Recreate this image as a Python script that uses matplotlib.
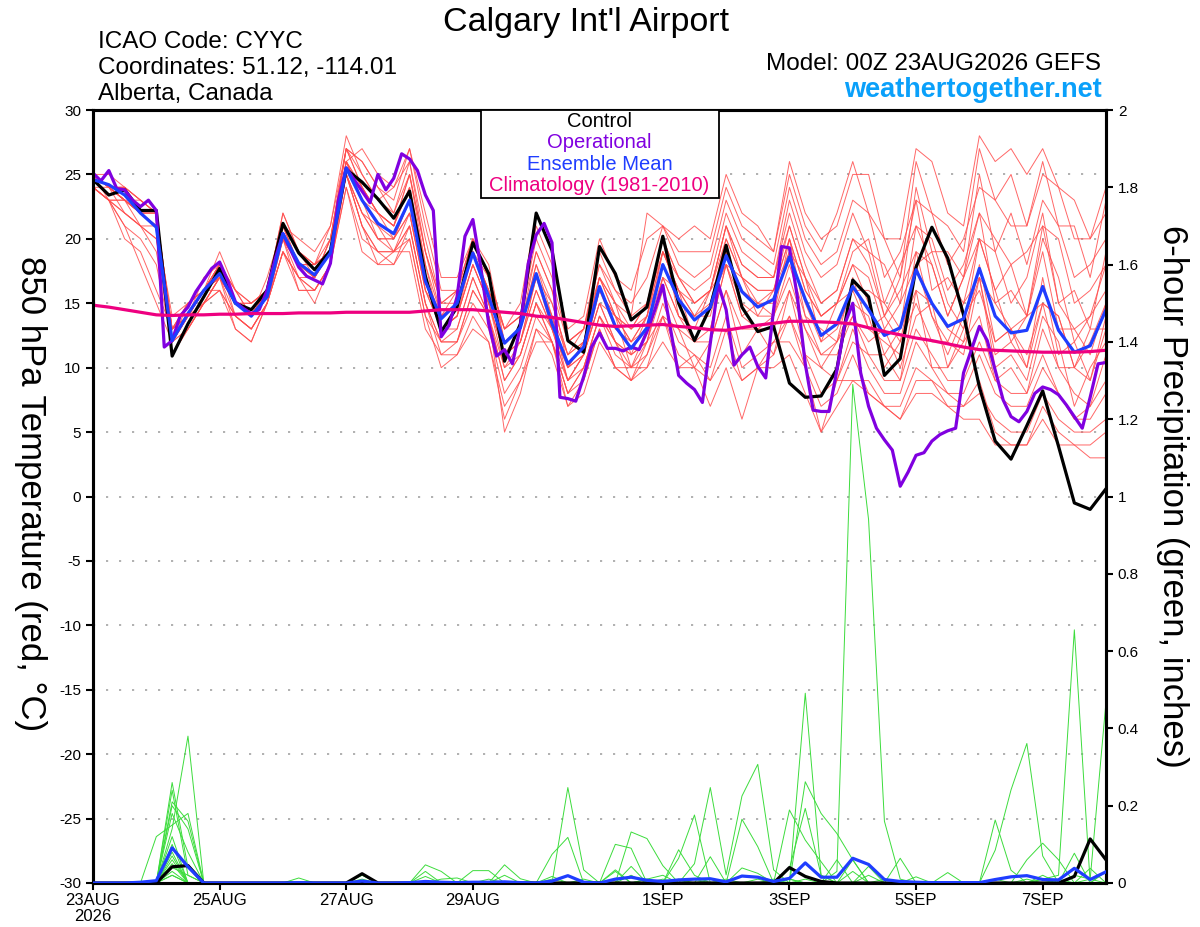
import numpy as np
import matplotlib
matplotlib.use('Agg')
import matplotlib.pyplot as plt
from matplotlib.patches import Rectangle

plt.rcParams['font.family'] = ['Liberation Sans', 'DejaVu Sans']
plt.rcParams['axes.unicode_minus'] = False

# 6-hourly GEFS steps (0..384 h), operational run is 3-hourly
hours = np.arange(65) * 6
hours_op = np.arange(129) * 3

tick_hours = [0, 48, 96, 144, 216, 264, 312, 360]
tick_labels = ['23AUG\n2026', '25AUG', '27AUG', '29AUG', '1SEP', '3SEP', '5SEP', '7SEP']

# 850 hPa temperature (C)
t_control = [24.6, 23.4, 23.8, 22.2, 22.2, 10.9, 13.4, 15.5, 17.7, 15.0, 14.5, 16.0, 21.2, 18.9, 17.6, 19.1, 25.4,
             24.4, 23.1, 21.6, 23.7, 17.1, 12.8, 14.7, 19.7, 17.3, 10.5, 13.4, 22.0, 19.1, 12.1, 11.2, 19.4,
             17.3, 13.7, 14.7, 20.2, 15.0, 12.1, 14.7, 19.5, 14.7, 12.8, 13.2, 8.8, 7.7, 7.8, 9.9, 16.8,
             15.5, 9.4, 10.7, 17.8, 20.9, 18.5, 14.1, 8.5, 4.3, 2.9, 5.5, 8.2, 3.9, -0.5, -1.0, 0.6]

t_mean = [24.6, 24.2, 23.4, 22.0, 20.9, 12.1, 14.2, 16.0, 17.3, 15.0, 14.0, 15.5, 20.4, 18.1, 17.2, 18.9, 25.5,
          23.0, 21.2, 20.4, 23.0, 16.7, 13.8, 15.0, 18.9, 15.5, 11.9, 13.1, 17.3, 13.4, 10.3, 11.6, 16.3,
          13.2, 11.5, 13.1, 18.0, 15.3, 13.7, 14.7, 18.7, 15.9, 14.7, 15.3, 18.6, 15.3, 12.5, 13.4, 16.3,
          14.5, 12.5, 13.1, 17.6, 15.0, 13.2, 13.8, 17.7, 14.0, 12.7, 12.9, 16.3, 12.9, 11.2, 11.7, 14.5]

t_clim = [14.85, 14.7, 14.5, 14.3, 14.1, 14.05, 14.1, 14.1, 14.15, 14.15, 14.2, 14.2, 14.2, 14.25, 14.25, 14.25, 14.3,
          14.3, 14.3, 14.3, 14.3, 14.4, 14.5, 14.5, 14.5, 14.4, 14.3, 14.2, 14.0, 13.9, 13.7, 13.5, 13.3,
          13.2, 13.25, 13.3, 13.35, 13.2, 13.1, 12.95, 12.9, 13.1, 13.3, 13.45, 13.6, 13.6, 13.55, 13.5, 13.4,
          13.1, 12.8, 12.55, 12.3, 12.1, 11.85, 11.6, 11.4, 11.35, 11.3, 11.25, 11.2, 11.2, 11.2, 11.25, 11.35]

t_oper = [25.1, 24.5, 25.3, 23.9, 23.8, 23.0, 22.5, 23.0, 22.2, 11.6, 12.1, 14.0, 14.7, 15.9, 16.8, 17.7,
          18.2, 16.8, 15.1, 14.6, 14.2, 14.5, 16.0, 18.4, 20.4, 19.1, 17.8, 17.1, 16.8, 16.5, 18.1, 23.0, 25.5,
          24.6, 23.7, 22.8, 25.0, 23.8, 24.7, 26.6, 26.2, 25.3, 23.4, 22.2, 12.4, 13.3, 15.5, 20.2, 21.5,
          17.8, 13.4, 10.9, 11.4, 10.3, 13.2, 18.1, 20.3, 21.2, 19.7, 7.7, 7.6, 7.4, 9.3, 11.6, 12.7,
          11.5, 11.5, 11.3, 11.6, 11.4, 12.8, 14.5, 16.4, 12.9, 9.4, 8.8, 8.3, 7.3, 11.9, 16.5, 14.5,
          10.2, 11.0, 11.6, 10.1, 9.2, 14.5, 19.4, 19.3, 15.5, 10.3, 6.7, 6.6, 6.6, 9.8, 13.4, 15.0,
          9.6, 7.0, 5.3, 4.4, 3.6, 0.8, 1.9, 3.2, 3.4, 4.3, 4.8, 5.1, 5.3, 9.6, 11.4, 13.2,
          12.1, 9.8, 7.5, 6.2, 5.8, 6.6, 8.0, 8.5, 8.3, 7.9, 7.1, 6.2, 5.3, 7.7, 10.3, 10.4]

t_members = [
    [25, 24, 24, 23, 22, 12, 14, 16, 18, 15, 14, 16, 21, 18, 17, 19, 26, 24, 22, 21, 24, 18, 14, 15, 19, 16, 12, 13, 18, 14, 11, 12, 17,
     14, 12, 14, 19, 16, 14, 15, 20, 17, 16, 16, 20, 16, 14, 15, 18, 17, 13, 15, 18, 19, 15, 13, 20, 16, 12, 14, 19, 13, 13, 11, 15],
    [25, 24, 23, 22, 22, 13, 14, 16, 18, 16, 15, 16, 21, 19, 18, 19, 27, 25, 23, 22, 26, 20, 15, 16, 20, 17, 13, 14, 20, 17, 12, 13, 19,
     16, 15, 17, 21, 18, 17, 18, 23, 20, 19, 18, 24, 20, 18, 19, 23, 22, 17, 19, 23, 22, 18, 20, 24, 23, 21, 21, 26, 21, 21, 17, 23],
    [24, 23, 20, 19, 16, 13, 15, 16, 17, 14, 13, 15, 19, 17, 16, 18, 25, 21, 19, 19, 21, 15, 12, 13, 17, 14, 9, 11, 15, 12, 8, 10, 14,
     12, 9, 12, 14, 13, 10, 12, 16, 11, 13, 11, 16, 11, 10, 9, 13, 10, 8, 8, 12, 10, 8, 8, 11, 8, 7, 7, 10, 8, 6, 6, 8],
    [25, 24, 23, 23, 22, 12, 13, 15, 17, 15, 14, 16, 20, 17, 17, 20, 27, 24, 22, 21, 25, 18, 13, 14, 19, 15, 11, 12, 17, 13, 9, 11, 16,
     14, 10, 13, 17, 16, 12, 15, 18, 14, 15, 14, 20, 14, 13, 12, 17, 13, 12, 11, 19, 14, 11, 14, 16, 12, 13, 10, 17, 11, 12, 9, 14],
    [25, 23, 21, 18, 15, 12, 14, 16, 18, 16, 14, 16, 21, 18, 18, 21, 27, 26, 24, 23, 27, 21, 16, 16, 20, 17, 13, 14, 21, 18, 13, 14, 20,
     17, 16, 20, 21, 19, 19, 19, 24, 21, 20, 19, 26, 22, 20, 21, 25, 25, 20, 20, 27, 26, 22, 21, 28, 26, 27, 25, 27, 24, 23, 20, 24],
    [24, 24, 23, 22, 21, 13, 14, 15, 16, 14, 13, 15, 20, 18, 17, 19, 25, 22, 20, 20, 22, 16, 13, 14, 18, 15, 11, 12, 16, 13, 10, 11, 15,
     12, 11, 12, 17, 14, 12, 13, 18, 14, 13, 14, 17, 13, 11, 11, 14, 12, 13, 10, 14, 15, 10, 13, 17, 10, 11, 9, 14, 12, 7, 10, 12],
    [25, 24, 24, 23, 22, 11, 13, 15, 17, 15, 14, 16, 22, 19, 18, 19, 26, 27, 25, 24, 27, 22, 17, 17, 20, 18, 12, 13, 19, 16, 10, 12, 17,
     14, 13, 15, 19, 17, 15, 16, 21, 18, 17, 17, 22, 18, 15, 16, 20, 19, 14, 17, 23, 16, 17, 15, 20, 19, 15, 17, 22, 15, 16, 13, 19],
    [24, 23, 22, 21, 19, 12, 14, 16, 17, 15, 15, 16, 20, 18, 17, 19, 25, 22, 21, 19, 21, 15, 11, 12, 16, 14, 5, 8, 13, 12, 7, 9, 13,
     10, 9, 11, 14, 11, 10, 9, 13, 9, 10, 11, 14, 10, 7, 8, 11, 8, 7, 6, 9, 9, 7, 7, 9, 5, 4, 4, 7, 5, 4, 3, 3],
    [25, 24, 23, 22, 21, 14, 15, 16, 19, 16, 14, 17, 21, 20, 19, 21, 28, 25, 23, 24, 26, 19, 14, 15, 19, 16, 13, 15, 22, 19, 12, 13, 18,
     15, 14, 22, 21, 20, 21, 20, 25, 22, 21, 19, 25, 21, 19, 22, 26, 22, 20, 17, 26, 22, 21, 19, 27, 23, 25, 21, 25, 24, 20, 20, 22],
    [25, 24, 22, 21, 20, 12, 14, 17, 18, 14, 13, 15, 20, 16, 16, 18, 25, 21, 18, 19, 20, 14, 12, 12, 15, 13, 8, 10, 14, 12, 9, 10, 14,
     12, 10, 12, 16, 13, 12, 12, 16, 13, 13, 13, 16, 13, 10, 12, 14, 11, 11, 9, 16, 10, 10, 12, 14, 9, 10, 8, 13, 10, 8, 7, 11],
    [24, 23, 23, 22, 21, 11, 13, 15, 17, 13, 12, 15, 19, 16, 16, 18, 24, 20, 19, 19, 19, 13, 11, 11, 14, 12, 7, 9, 12, 12, 8, 9, 13,
     10, 9, 10, 12, 10, 10, 7, 10, 6, 10, 10, 11, 8, 5, 7, 9, 9, 7, 6, 8, 8, 7, 6, 6, 4, 4, 4, 6, 4, 4, 4, 5],
    [25, 24, 23, 22, 22, 13, 14, 16, 17, 15, 15, 16, 21, 18, 17, 19, 26, 23, 21, 20, 23, 17, 14, 16, 19, 16, 12, 13, 18, 15, 11, 13, 17,
     15, 11, 14, 20, 14, 13, 16, 18, 17, 14, 16, 19, 17, 12, 15, 16, 16, 15, 13, 21, 18, 14, 17, 20, 16, 18, 14, 21, 15, 13, 14, 18],
    [25, 24, 24, 22, 21, 12, 15, 16, 18, 16, 15, 16, 20, 18, 17, 20, 27, 24, 22, 21, 25, 19, 15, 15, 19, 17, 12, 13, 17, 14, 10, 12, 16,
     14, 12, 13, 19, 16, 14, 16, 20, 17, 15, 16, 20, 16, 14, 15, 18, 15, 11, 13, 16, 15, 13, 12, 18, 12, 13, 11, 15, 14, 10, 13, 13],
    [24, 23, 22, 21, 20, 13, 14, 16, 16, 13, 12, 15, 19, 17, 15, 18, 24, 19, 18, 18, 20, 14, 10, 11, 13, 12, 6, 9, 13, 11, 7, 8, 12,
     10, 10, 10, 14, 10, 11, 9, 11, 9, 10, 12, 12, 10, 5, 9, 9, 8, 7, 7, 10, 9, 8, 7, 8, 6, 5, 5, 8, 6, 5, 5, 6],
    [25, 24, 23, 22, 21, 12, 14, 15, 17, 15, 14, 16, 20, 18, 18, 19, 26, 23, 22, 21, 24, 17, 13, 14, 18, 15, 11, 13, 17, 15, 11, 12, 17,
     15, 13, 14, 19, 16, 15, 16, 21, 17, 16, 16, 21, 17, 14, 15, 19, 20, 15, 18, 21, 20, 16, 18, 22, 20, 18, 19, 21, 20, 15, 16, 18],
    [25, 24, 23, 22, 22, 13, 15, 16, 18, 15, 14, 16, 22, 19, 17, 20, 26, 23, 20, 20, 22, 16, 14, 15, 19, 16, 11, 12, 17, 14, 9, 11, 16,
     13, 12, 14, 18, 15, 14, 14, 19, 16, 15, 15, 19, 15, 12, 13, 16, 13, 14, 12, 18, 14, 12, 15, 17, 15, 13, 14, 15, 14, 10, 12, 15],
    [25, 24, 23, 22, 21, 12, 14, 16, 17, 15, 14, 16, 20, 18, 18, 19, 26, 24, 22, 20, 23, 17, 13, 14, 18, 15, 10, 12, 16, 13, 9, 11, 15,
     12, 11, 12, 17, 14, 13, 13, 18, 15, 14, 14, 18, 14, 11, 12, 15, 14, 10, 12, 15, 12, 12, 11, 17, 11, 12, 10, 15, 10, 10, 9, 13],
    [24, 23, 21, 20, 18, 12, 14, 16, 17, 15, 14, 16, 20, 18, 17, 19, 25, 22, 20, 19, 22, 16, 13, 13, 17, 14, 10, 11, 15, 13, 10, 11, 15,
     14, 13, 15, 20, 17, 16, 17, 22, 19, 18, 17, 23, 19, 17, 18, 22, 19, 18, 15, 24, 19, 19, 17, 25, 19, 22, 18, 23, 21, 17, 18, 20],
    [25, 25, 24, 23, 22, 13, 15, 16, 18, 15, 14, 16, 21, 19, 18, 20, 27, 26, 24, 22, 25, 19, 15, 16, 20, 17, 13, 14, 19, 16, 12, 13, 18,
     16, 14, 15, 20, 17, 15, 16, 21, 18, 17, 17, 21, 17, 15, 16, 20, 18, 14, 16, 19, 18, 14, 17, 22, 15, 16, 14, 20, 17, 12, 14, 16],
    [24, 23, 23, 21, 21, 12, 13, 15, 16, 14, 13, 15, 19, 17, 16, 18, 25, 21, 19, 18, 21, 15, 12, 12, 16, 14, 9, 11, 15, 12, 8, 10, 14,
     11, 10, 11, 15, 12, 11, 10, 14, 10, 11, 12, 14, 11, 8, 9, 12, 11, 9, 9, 13, 11, 9, 9, 12, 9, 8, 8, 11, 8, 6, 7, 9],
]

# 6-hour precipitation (inches)
p_control = [0, 0, 0, 0, 0, 0.042, 0.045, 0, 0, 0, 0, 0, 0, 0, 0, 0,
             0, 0.024, 0, 0, 0, 0, 0, 0, 0, 0, 0, 0, 0, 0, 0, 0,
             0, 0, 0, 0, 0, 0, 0, 0, 0, 0, 0, 0, 0.040, 0.017, 0.004, 0,
             0, 0, 0, 0, 0, 0, 0, 0, 0, 0, 0, 0, 0, 0, 0.017, 0.114, 0.06]

p_mean = [0, 0, 0, 0.002, 0.006, 0.091, 0.042, 0, 0, 0, 0, 0, 0, 0.001, 0, 0,
          0, 0.005, 0, 0, 0.001, 0.004, 0.002, 0.001, 0.002, 0.002, 0.003, 0.001, 0, 0.005, 0.019, 0.002,
          0, 0.010, 0.015, 0.007, 0.004, 0.008, 0.010, 0.011, 0.003, 0.018, 0.015, 0.004, 0.012, 0.052, 0.015, 0.015,
          0.064, 0.048, 0.009, 0.004, 0.002, 0.001, 0.001, 0.001, 0.001, 0.009, 0.016, 0.019, 0.009, 0.008, 0.038, 0.009, 0.029]

# members: {6-hour step index: precip}, all other steps are dry
p_members = [
    {5: .26, 6: .04, 21: .047, 22: .03, 34: .132, 35: .115, 36: .045, 45: .262, 46: .18, 47: .128, 48: .06, 59: .06, 60: .103, 61: .06},
    {5: .24, 6: .02, 30: .247, 31: .034, 38: .05, 39: .247, 40: .021, 41: .225, 42: .307, 43: .034, 57: .085, 58: .241, 59: .361, 60: .07, 62: .077, 64: .03},
    {4: .12, 5: .15, 6: .18, 29: .074, 30: .118, 33: .10, 34: .09, 37: .064, 38: .176, 44: .189, 45: .111, 46: .055, 49: .043, 63: .038},
    {5: .21, 6: .16, 24: .032, 25: .032, 33: .034, 37: .086, 38: .02, 41: .165, 42: .094, 45: .491, 46: .02, 51: .064, 57: .163, 58: .033, 62: .02, 63: .01, 64: .469},
    {5: .20, 6: .14, 26: .047, 27: .011, 35: .01, 36: .02, 39: .068, 47: .03, 48: 1.29, 49: .94, 50: .16, 51: .01},
    {5: .18, 6: .08, 13: .013, 29: .017, 34: .043, 44: .038, 45: .193, 46: .02, 54: .027, 60: .01, 61: .02, 62: .655},
    {5: .14, 6: .38, 21: .03, 34: .02, 41: .039, 42: .025, 44: .01, 48: .06, 52: .016, 60: .01},
    {5: .12, 17: .02, 21: .017, 33: .03, 43: .01, 47: .06, 49: .02, 63: .01},
    {5: .09, 6: .04, 22: .01, 23: .013, 37: .01, 40: .01, 45: .01, 50: .01, 64: .03},
    {5: .07, 31: .01, 35: .01, 48: .03},
    {5: .04, 6: .02, 42: .01, 59: .01},
    {5: .02, 17: .01, 26: .02},
    {5: .10, 38: .01},
    {5: .05, 61: .01},
    {5: .06, 44: .01},
    {5: .03, 39: .01},
    {29: .01, 57: .01},
    {5: .08, 36: .01},
    {25: .01},
    {5: .02, 60: .02},
]

fig = plt.figure(figsize=(12, 9.27), dpi=100)
ax = fig.add_axes([93 / 1200, 1 - 883 / 927, 1013 / 1200, 773 / 927])
ax2 = ax.twinx()

for m in t_members:
    ax.plot(hours[:len(m)], m, color='#ff4d4d', lw=0.7, alpha=0.85, zorder=2)
ax.plot(hours, t_control, color='black', lw=2.3, zorder=3)
ax.plot(hours_op, t_oper, color='#8000e0', lw=2.3, zorder=4)
ax.plot(hours, t_mean, color='#1f3dff', lw=2.3, zorder=5)
ax.plot(hours, t_clim, color='#ee0080', lw=2.3, zorder=6)

for ev in p_members:
    row = np.zeros(65)
    for k, v in ev.items():
        row[k] = v
    ax2.plot(hours, row, color='#3cdc3c', lw=0.7, zorder=2)
ax2.plot(hours, p_control, color='black', lw=2.3, zorder=3)
ax2.plot(hours, p_mean, color='#1f3dff', lw=2.3, zorder=4)

ax.set_xlim(0, 384)
ax.set_ylim(-30, 30)
ax2.set_ylim(0, 2)

ax.set_yticks(np.arange(-30, 31, 5))
ax.yaxis.grid(True, linestyle=(0, (1.2, 6)), color='#aaaaaa', lw=1.3)
ax2.set_yticks(np.arange(0, 2.01, 0.2))
ax2.set_yticklabels(['0', '0.2', '0.4', '0.6', '0.8', '1', '1.2', '1.4', '1.6', '1.8', '2'])
ax.set_xticks(tick_hours)
ax.set_xticklabels(tick_labels, fontsize=12, linespacing=1.1)

for a in (ax, ax2):
    for s in a.spines.values():
        s.set_linewidth(2.2)
    a.tick_params(direction='out', length=5, width=1.5, labelsize=11)
ax.tick_params(axis='x', labelsize=12, pad=2)

# axis titles read top to bottom on both sides
fig.text(30 / 1200, 1 - 494 / 927, '850 hPa Temperature (red, °C)', fontsize=25,
         rotation=270, ha='center', va='center')
fig.text(1172 / 1200, 1 - 496 / 927, '6-hour Precipitation (green, inches)', fontsize=25,
         rotation=270, ha='center', va='center')

# legend box
ax2.add_patch(Rectangle((0.383, 0.886), 0.235, 0.114, transform=ax2.transAxes,
                        facecolor='white', edgecolor='black', lw=1.3, zorder=10, clip_on=False))
legend_items = [('Control', 'black'), ('Operational', '#8000e0'),
                ('Ensemble Mean', '#1f3dff'), ('Climatology (1981-2010)', '#ee0080')]
for n, (txt, col) in enumerate(legend_items):
    ax2.text(0.5, 0.985 - n * 0.0275, txt, color=col, fontsize=14.5, ha='center', va='center',
             transform=ax2.transAxes, zorder=11)

fig.text(0.4885, 1 - 31 / 927, "Calgary Int'l Airport", fontsize=24.5, ha='center', va='baseline')
fig.text(98 / 1200, 1 - 48 / 927, 'ICAO Code: CYYC', fontsize=17.5, va='baseline')
fig.text(98 / 1200, 1 - 74 / 927, 'Coordinates: 51.12, -114.01', fontsize=17.5, va='baseline')
fig.text(98 / 1200, 1 - 100 / 927, 'Alberta, Canada', fontsize=17.5, va='baseline')
fig.text(1101 / 1200, 1 - 70 / 927, 'Model: 00Z 23AUG2026 GEFS', fontsize=17.5, ha='right', va='baseline')
fig.text(1102 / 1200, 1 - 97 / 927, 'weathertogether.net', fontsize=19.5, fontweight='bold',
         color='#0aa0fa', ha='right', va='baseline')

fig.savefig('out.png', dpi=100)
